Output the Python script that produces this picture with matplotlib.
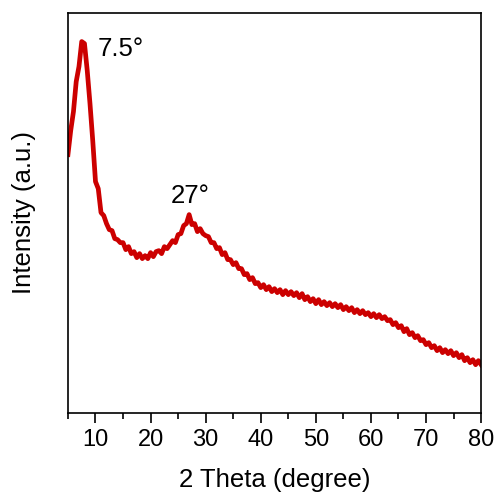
import matplotlib.pyplot as plt
import numpy as np
from matplotlib.ticker import MultipleLocator

plt.rcParams['font.family'] = ['Liberation Sans', 'DejaVu Sans']

# 2 theta grid (degree) and intensity (a.u.)
two_theta = np.arange(5.0, 80.01, 0.5)
intensity = [
    258, 282, 301, 331, 346, 371, 369, 342, 309, 272,
    231, 224, 200, 197, 189, 183, 182, 174, 173, 170,
    170, 163, 166, 159, 161, 155, 159, 154, 157, 154,
    160, 156, 161, 162, 159, 166, 164, 168, 172, 170,
    178, 179, 187, 189, 198, 188, 189, 181, 184, 179,
    177, 176, 170, 170, 164, 165, 158, 160, 153, 153,
    148, 150, 144, 144, 138, 139, 133, 135, 129, 130,
    125, 128, 123, 126, 121, 124, 120, 123, 118, 122,
    118, 121, 117, 120, 115, 119, 113, 116, 111, 114,
    109, 113, 108, 111, 107, 110, 106, 109, 105, 108,
    103, 106, 102, 105, 100, 103, 99, 102, 98, 100,
    96, 99, 95, 98, 94, 96, 92, 93, 88, 90,
    85, 87, 81, 84, 78, 80, 75, 77, 72, 73,
    68, 70, 65, 67, 62, 65, 60, 63, 59, 62,
    57, 60, 55, 58, 52, 55, 50, 53, 48, 52,
    48,
]
peak_labels = ["7.5\u00b0", "27\u00b0"]
peak_pos = [(10.3, 364), (23.6, 217)]

fig = plt.figure(figsize=(4.96, 4.94), dpi=100)
ax = fig.add_axes([0.137, 0.1646, 0.833, 0.81])

ax.plot(two_theta, intensity, color='#cc0000', lw=3.4)

for label, (px, py) in zip(peak_labels, peak_pos):
    ax.text(px, py, label, fontsize=18.5, ha='left', va='center')

ax.set_xlim(5, 80)
ax.set_ylim(0, 400)
ax.xaxis.set_major_locator(MultipleLocator(10))
ax.xaxis.set_minor_locator(MultipleLocator(5))
ax.set_yticks([])
ax.tick_params(axis='x', which='major', direction='out', length=7, width=1.2,
               labelsize=17, pad=5)
ax.tick_params(axis='x', which='minor', direction='out', length=4, width=1.2)
for sp in ax.spines.values():
    sp.set_linewidth(1.2)

ax.set_xlabel("2 Theta (degree)", fontsize=18.5, labelpad=12)
ax.set_ylabel("Intensity (a.u.)", fontsize=18.5, labelpad=23)

fig.savefig("out.png", dpi=100)
